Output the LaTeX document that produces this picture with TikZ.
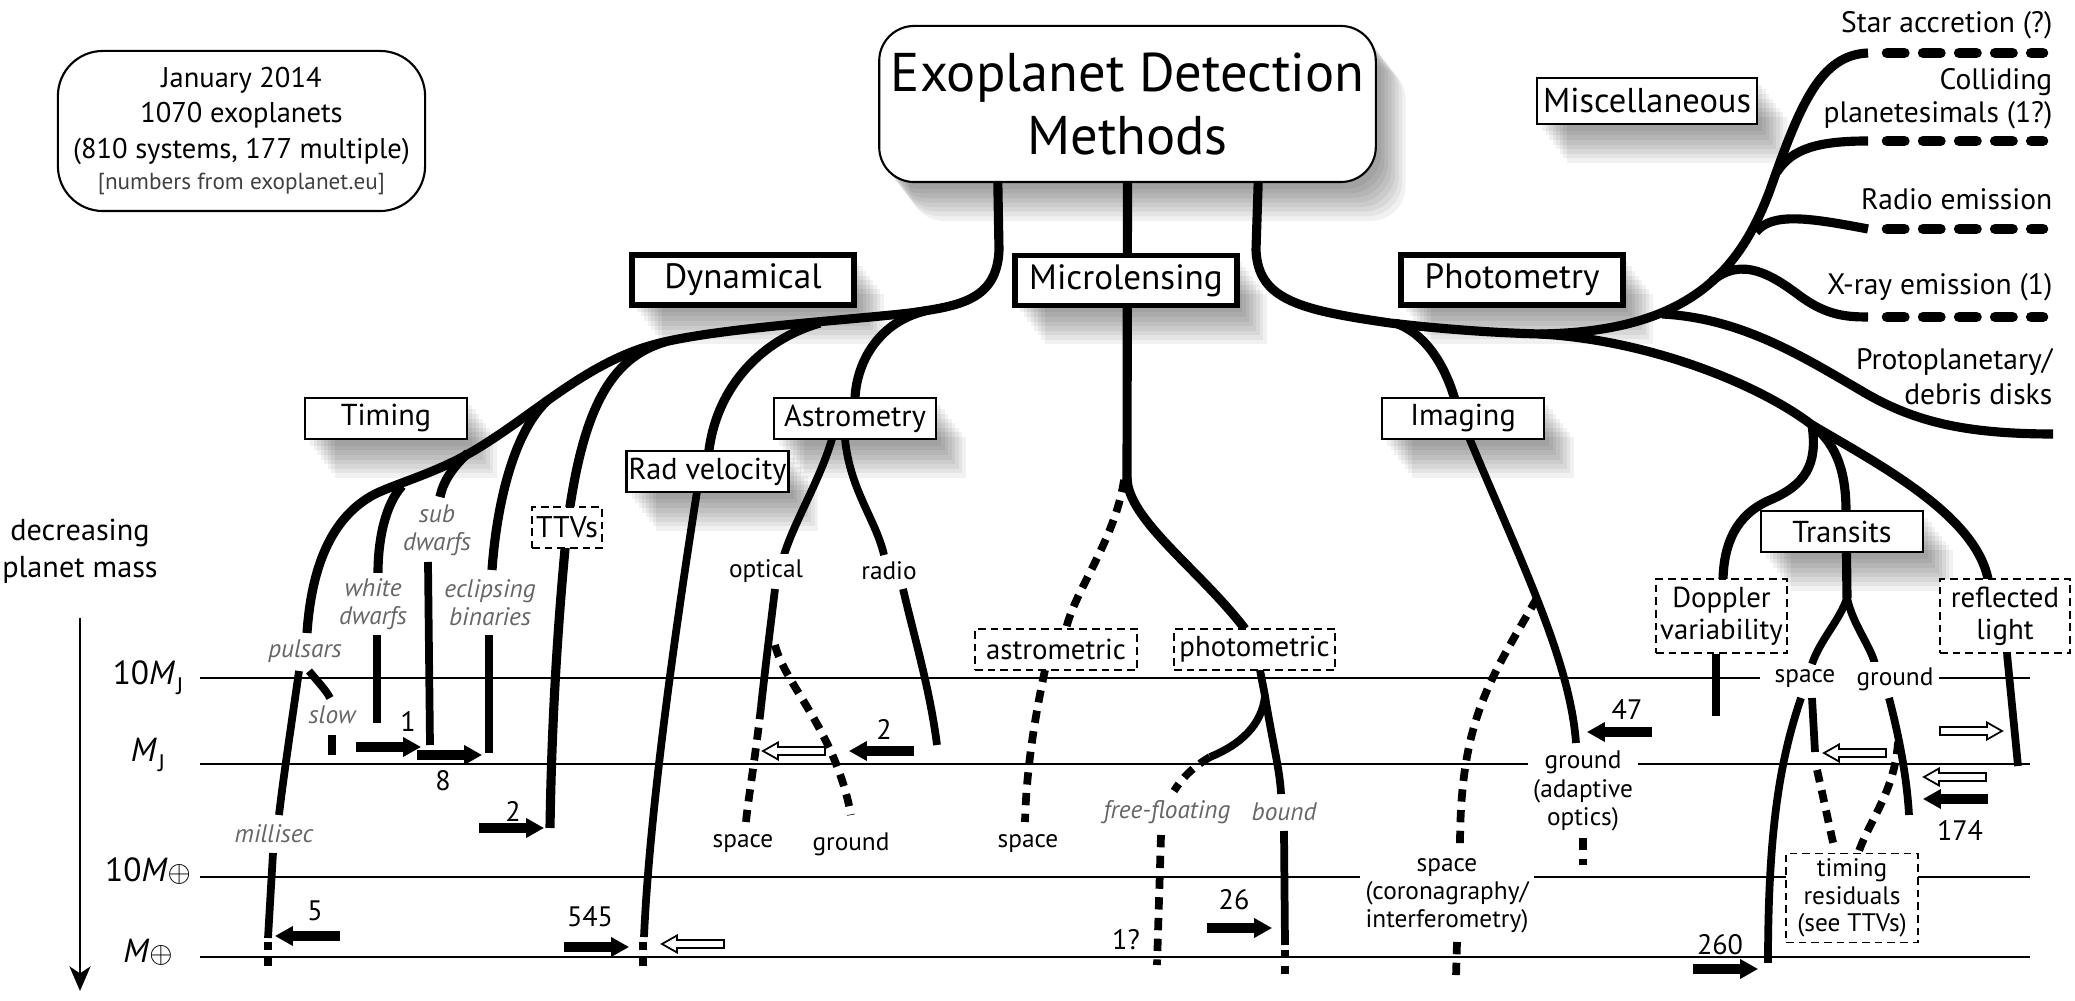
\documentclass[tikz,border=0pt]{standalone}
\usepackage{fontspec}
\setmainfont{PT Sans}
\usetikzlibrary{arrows.meta,calc,positioning,shadows}

% count arrow: [look]{tail x}{y}{direction, 1 = right, -1 = left}
\newcommand{\cntarrow}[4][fill=black]{%
  \draw[#1,line width=0.5pt] (#2,#3) ++(0,-4) -- ++({47*(#4)},0) -- ++(0,-4.5)
    -- ++({15*(#4)},8.5) -- ++({-15*(#4)},8.5) -- ++(0,-4.5) -- ++({-47*(#4)},0) -- cycle;}
\newcommand{\Mj}{\textit{M}\kern0.3pt\raisebox{-2.8pt}{\fontsize{6.8}{7}\selectfont J}}
\newcommand{\Me}{\textit{M}{\fontsize{8}{8}\selectfont$\oplus$}}

\begin{document}
\begin{tikzpicture}[x=0.01cm,y=-0.01cm,
        trunk/.style={line width=2.6pt},
        branch/.style={line width=2.2pt},
        dotline/.style={line width=2.2pt,dash pattern=on 3.5pt off 2.4pt},
        endbits/.style={line width=2.2pt,dash pattern=on 2.3pt off 2.3pt},
        miscdash/.style={line width=3pt,line cap=round,dash pattern=on 4.95pt off 5.3pt},
        level/.style={line width=0.8pt},
        shade/.style={general shadow={fill=black,opacity=.055,shadow xshift=#1pt,shadow yshift=-1.3*#1pt}},
        shadowed/.style={shade=8.5,shade=7.5,shade=6.5,shade=5.5,shade=4.5,shade=3.5,shade=2.5,shade=1.5},
        bigbox/.style={draw,line width=1.5pt,fill=white,minimum width=2.22cm,minimum height=0.5cm,inner sep=0pt,font=\fontsize{10}{12}\selectfont,shadowed},
        smallbox/.style={draw,line width=0.6pt,fill=white,minimum width=1.62cm,minimum height=0.41cm,inner sep=0pt,font=\fontsize{8.6}{10}\selectfont,shadowed},
        dashbox/.style={draw,line width=0.5pt,dash pattern=on 2.2pt off 1.4pt,fill=white,inner sep=0pt,align=center,font=\fontsize{8.2}{9}\selectfont},
        lbl/.style={fill=white,inner sep=1.5pt,align=center,font=\fontsize{7.2}{8}\selectfont},
        kind/.style={lbl,text=black!60,font=\fontsize{7.2}{8}\selectfont\itshape},
        num/.style={inner sep=0pt,font=\fontsize{8}{10}\selectfont},
        mass/.style={anchor=base,inner sep=0pt,font=\fontsize{9.5}{11}\selectfont},
        side/.style={anchor=base east,inner sep=0pt,font=\fontsize{8.4}{10}\selectfont}
    ]
    \useasboundingbox (0,0) rectangle (2075,1001);

    % --- Mass levels ---
    \draw[level] (200,678) -- (1760,678) (1937,678) -- (2030,678);
    \draw[level] (200,764) -- (1535,764) (1633,764) -- (2030,764);
    \draw[level] (200,877) -- (1366,877) (1530,877) -- (2030,877);
    \draw[level] (200,957) -- (2030,957);
    \node[mass] (mj10) at (148,685) {10\Mj};
    \node[mass] (mj1) at (148,762) {\Mj};
    \node[mass] (me10) at (148,882) {10\Me};
    \node[mass] (me1) at (148,963) {\Me};
    \node[align=center,font=\fontsize{8.6}{10.5}\selectfont] (decr) at (80,551) {decreasing\\planet mass};
    \coordinate (massend) at (79,991);
    \draw[-{Stealth[length=7pt,width=6pt,inset=2pt]},line width=0.7pt] ([yshift=-0.22cm]decr.south) -- (decr.south |- massend);

    % --- Title and info ---
    \node[draw,line width=0.6pt,fill=white,rounded corners=0.35cm,minimum width=4.91cm,minimum height=1.56cm,
          align=center,font=\fontsize{15.5}{17.9}\selectfont,shadowed] (title) at (1127.5,104) {Exoplanet Detection\\Methods};
    \node[draw,line width=0.6pt,rounded corners=0.45cm,minimum width=3.67cm,minimum height=1.6cm,
          align=center,font=\fontsize{8.1}{10}\selectfont] (info) at (241.5,131)
          {January 2014\\1070 exoplanets\\(810 systems, 177 multiple)\\[-1.2pt]{\fontsize{6.6}{8}\selectfont\color{black!75}[numbers from exoplanet.eu]}};

    % --- Dynamical ---
    \draw[trunk] ($(title.south west)!.24!(title.south east)$) -- (999,250)
        .. controls (997,300) and (960,306) .. (910,313)
        .. controls (850,320) and (720,328) .. (660,343)
        .. controls (590,360) and (540,410) .. (480,447)
        .. controls (440,472) and (400,482) .. (375,494)
        .. controls (335,515) and (312,560) .. (307,633);
    \draw[trunk] (925,311) .. controls (880,322) and (857,360) .. (855,398);
    \draw[trunk] (820,323) .. controls (760,340) and (713,390) .. (708,460);
    \draw[branch] (698,485) .. controls (680,600) and (650,800) .. (644,937);
    \draw[endbits] (643,942) -- (643,972);
    \draw[trunk] (665,342) .. controls (610,358) and (582,410) .. (567,528)
        .. controls (560,600) and (552,700) .. (550,828);
    \draw[trunk] (548,400) .. controls (515,430) and (497,500) .. (492,570);
    \draw[branch] (489,635) -- (489,753);
    \draw[trunk] (468,453) .. controls (452,468) and (443,482) .. (440,497);
    \draw[branch] (428,562) -- (430,745);
    \draw[trunk] (402,486) .. controls (385,505) and (378,540) .. (378,573);
    \draw[branch] (377,635) -- (377,723);
    % pulsars
    \draw[branch] (299,671) .. controls (292,720) and (283,780) .. (279,815);
    \draw[branch] (273,853) -- (268,938);
    \draw[endbits] (268,942) -- (268,970);
    \draw[branch] (309,671) .. controls (318,682) and (326,690) .. (330,698);
    \draw[branch] (332,735) -- (332,755);
    % astrometry
    \draw[branch] (832,439) .. controls (820,480) and (795,520) .. (784,555);
    \draw[branch] (845,439) .. controls (850,490) and (876,520) .. (884,555);
    \draw[branch] (775,589) .. controls (770,630) and (765,670) .. (761,707);
    \draw[dotline] (761,707) .. controls (755,760) and (748,800) .. (746,822);
    \draw[dotline] (775,645) .. controls (785,685) and (835,730) .. (851,815);
    \draw[branch] (903,589) .. controls (915,640) and (930,690) .. (937,745);

    % --- Microlensing ---
    \draw[trunk] (title.south) -- (1127,480);
    \draw[trunk] (1127,478) .. controls (1128,520) and (1200,570) .. (1245,629);
    \draw[dotline] (1124,480) .. controls (1115,540) and (1075,590) .. (1066,629);
    \draw[dotline] (1045,670) .. controls (1032,730) and (1026,780) .. (1025,822);
    \draw[branch] (1260,670) -- (1265,696) .. controls (1272,740) and (1280,770) .. (1281,794);
    \draw[branch] (1265,696) .. controls (1262,725) and (1240,745) .. (1210,757);
    \draw[dotline] (1210,757) .. controls (1193,767) and (1182,778) .. (1174,791);
    \draw[dotline] (1161,835) -- (1157,965);
    \draw[branch] (1284,831) -- (1285,945);
    \draw[endbits] (1285,950) -- (1285,982);

    % --- Photometry ---
    \draw[trunk] ($(title.south west)!.762!(title.south east)$) -- (1256,250)
        .. controls (1258,300) and (1300,310) .. (1390,323)
        .. controls (1450,330) and (1500,333) .. (1540,334)
        .. controls (1690,332) and (1740,270) .. (1770,190)
        .. controls (1800,105) and (1820,55) .. (1868,53);
    \draw[trunk] (1540,334) .. controls (1650,340) and (1760,385) .. (1812,425);
    \draw[trunk] (1395,323) .. controls (1425,333) and (1445,365) .. (1455,400);
    \draw[branch] (1468,435) .. controls (1520,560) and (1570,660) .. (1576,743);
    \draw[dotline] (1537,598) .. controls (1490,680) and (1460,720) .. (1460,847);
    \draw[dotline] (1457,942) -- (1456,977);
    \draw[dotline] (1583,838) -- (1583,865);
    % miscellaneous
    \draw[trunk] (1777,172) .. controls (1792,148) and (1820,141) .. (1868,141);
    \draw[trunk] (1756,232) .. controls (1772,212) and (1810,218) .. (1868,229);
    \draw[trunk] (1712,281) .. controls (1742,256) and (1772,275) .. (1800,296)
        .. controls (1826,315) and (1845,317) .. (1868,317);
    \draw[trunk] (1662,314) .. controls (1740,318) and (1800,355) .. (1860,390)
        .. controls (1910,420) and (1960,434) .. (2053,434);
    \foreach \y in {53,141,229,317}
        \draw[miscdash] (1887,\y) -- (2043,\y);
    % transits
    \draw[trunk] (1812,425) .. controls (1818,465) and (1805,485) .. (1770,500)
        .. controls (1735,515) and (1724,545) .. (1723,579);
    \draw[trunk] (1812,425) .. controls (1838,445) and (1846,475) .. (1846,511) -- (1847,598);
    \draw[trunk] (1812,425) .. controls (1880,465) and (1975,515) .. (1988,579);
    \draw[branch] (1847,598) .. controls (1840,620) and (1820,640) .. (1812,664);
    \draw[branch] (1847,598) .. controls (1853,625) and (1870,645) .. (1875,664);
    \draw[branch] (1801,698) .. controls (1780,760) and (1768,830) .. (1768,963);
    \draw[branch] (1812,698) -- (1815,752);
    \draw[dotline] (1817,770) .. controls (1824,800) and (1830,830) .. (1835,851);
    \draw[branch] (1889,698) .. controls (1900,740) and (1907,780) .. (1909,815);
    \draw[dotline] (1898,742) .. controls (1895,790) and (1870,820) .. (1859,851);
    \draw[branch] (2007,654) -- (2018,766);
    \draw[branch] (1716,654) -- (1716,716);

    % --- Boxes ---
    \node[bigbox] (dyn) at (743,280) {Dynamical};
    \node[bigbox] (micro) at (1126,280.5) {Microlensing};
    \node[bigbox] (photo) at (1512,280) {Photometry};
    \node[smallbox,minimum width=2.2cm,minimum height=0.46cm,font=\fontsize{9.8}{12}\selectfont] (misc) at (1647,101) {Miscellaneous};
    \node[smallbox] (timing) at (386,418.5) {Timing};
    \node[smallbox] (astro) at (855,418.5) {Astrometry};
    \node[smallbox] (imaging) at (1463,418.5) {Imaging};
    \node[smallbox] (rv) at (707.5,471.5) {Rad velocity};
    \node[smallbox] (transits) at (1842,531.5) {Transits};
    \node[dashbox,minimum width=0.7cm,minimum height=0.41cm,font=\fontsize{8.5}{10}\selectfont] (ttv) at (567,527.5) {TTVs};
    \node[dashbox,minimum width=1.62cm,minimum height=0.41cm] (astrom) at (1056,649.5) {astrometric};
    \node[dashbox,minimum width=1.61cm,minimum height=0.41cm] (photom) at (1254.5,649.5) {photometric};
    \node[dashbox,minimum width=1.31cm,minimum height=0.74cm] (doppler) at (1721.5,616) {Doppler\\variability};
    \node[dashbox,minimum width=1.30cm,minimum height=0.74cm] (refl) at (2005,616) {reflected\\light};
    \node[dashbox,minimum width=1.32cm,minimum height=0.89cm,font=\fontsize{7.2}{7.9}\selectfont] (resid) at (1852,898) {timing\\residuals\\(see TTVs)};

    % --- Labels ---
    \node[kind] (pulsars) at (305,651) {pulsars};
    \node[kind] (slow) at (332,715) {slow};
    \node[kind] (millisec) at (274,834) {millisec};
    \node[kind] (wd) at (373,604) {white\\dwarfs};
    \node[kind] (sd) at (437,530) {sub\\dwarfs};
    \node[kind] (eb) at (490,603) {eclipsing\\binaries};
    \node[kind] (ff) at (1167,812) {free-floating};
    \node[kind] (bound) at (1284,812) {bound};
    \node[lbl] (optical) at (766,571) {optical};
    \node[lbl] (radio) at (889,571) {radio};
    \node[lbl] (aspace) at (743,844) {space};
    \node[lbl] (aground) at (851,844) {ground};
    \node[lbl] (mspace) at (1028,844) {space};
    \node[lbl] (tspace) at (1805,679) {space};
    \node[lbl] (tground) at (1895,679) {ground};
    \node[lbl] (ao) at (1583,791) {ground\\(adaptive\\optics)};
    \node[lbl] (corona) at (1447,896) {space\\(coronagraphy/\\interferometry)};
    \node[side] (star) at (2053,33) {Star accretion (?)};
    \node[side] (coll) at (2053,90) {Colliding};
    \node[side] (plan) at (2053,123) {planetesimals (1?)};
    \node[side] (radioem) at (2053,210) {Radio emission};
    \node[side] (xray) at (2053,295) {X-ray emission (1)};
    \node[side] (proto) at (2053,370) {Protoplanetary/};
    \node[side] (debris) at (2053,405) {debris disks};

    % --- Counts ---
    \foreach \x/\y/\d in {357/747/1,418/755/1,480/828/1,339/936/-1,565/947/1,913/751/-1,
                          1208/928/1,1651/732/-1,1987/799/-1,1694/969/1}
        \cntarrow{\x}{\y}{\d};
    \foreach \x/\y/\d in {724/944/-1,825/751/-1,1886/753/-1,1940/731/1,1986/777/-1}
        \cntarrow[fill=white,draw=black]{\x}{\y}{\d};
    \node[num] (c1) at (408,721) {1};
    \node[num] (c8) at (443,781) {8};
    \node[num] (c2a) at (513,811) {2};
    \node[num] (c5) at (315,911) {5};
    \node[num] (c545) at (590,917) {545};
    \node[num] (c2b) at (884,729) {2};
    \node[num] (c26) at (1234,900) {26};
    \node[num] (c1q) at (1126,940) {1?};
    \node[num] (c47) at (1627,710) {47};
    \node[num] (c174) at (1960,830) {174};
    \node[num] (c260) at (1720,945) {260};
\end{tikzpicture}
\end{document}
